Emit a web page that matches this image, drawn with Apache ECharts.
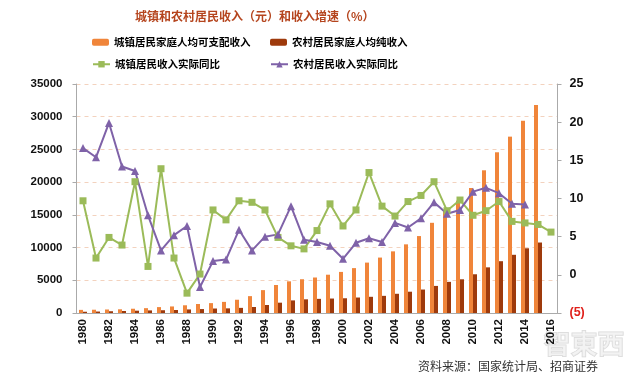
<!DOCTYPE html>
<html><head><meta charset="utf-8">
<script src="https://cdn.jsdelivr.net/npm/echarts@6/dist/echarts.min.js"></script>
<style>html,body{margin:0;padding:0;background:#fff;}#c{width:640px;height:383px;}</style>
</head><body><div id="c"></div>
<script>
const years = ['1980','1981','1982','1983','1984','1985','1986','1987','1988','1989','1990','1991','1992','1993','1994','1995','1996','1997','1998','1999','2000','2001','2002','2003','2004','2005','2006','2007','2008','2009','2010','2011','2012','2013','2014','2015','2016'];
const urbanIncome = [477.6,500.4,535.3,564.6,652.1,739.1,900.9,1002.1,1180.2,1373.9,1510.2,1700.6,2026.6,2577.4,3496.2,4283.0,4838.9,5160.3,5425.1,5854.0,6280.0,6859.6,7702.8,8472.2,9421.6,10493.0,11759.5,13785.8,15780.8,17174.7,19109.4,21809.8,24564.7,26955.1,29381.0,31790.3,null];
const ruralIncome = [191.3,223.4,270.1,309.8,355.3,397.6,423.8,462.6,544.9,601.5,686.3,708.6,784.0,921.6,1221.0,1577.7,1926.1,2090.1,2162.0,2210.3,2253.4,2366.4,2475.6,2622.2,2936.4,3254.9,3587.0,4140.4,4760.6,5153.2,5919.0,6977.3,7916.6,8895.9,9892.0,10772.0,null];
const urbanGrowth = [9.7,2.2,4.9,3.9,12.2,1.1,13.9,2.2,-2.4,0.1,8.5,7.2,9.7,9.5,8.5,4.9,3.8,3.4,5.8,9.3,6.4,8.5,13.4,9.0,7.7,9.6,10.4,12.2,8.4,9.8,7.8,8.4,9.6,7.0,6.8,6.6,5.6];
const ruralGrowth = [16.6,15.4,19.9,14.2,13.6,7.8,3.2,5.2,6.4,-1.6,1.8,2.0,5.9,3.2,5.0,5.3,9.0,4.6,4.3,3.8,2.1,4.2,4.8,4.3,6.8,6.2,7.4,9.5,8.0,8.5,10.9,11.4,10.7,9.3,9.2,null,null];
const leftTicks = [0,5000,10000,15000,20000,25000,30000,35000];
const rightTicks = [-5,0,5,10,15,20,25];
const names = ['城镇居民家庭人均可支配收入','农村居民家庭人均纯收入','城镇居民收入实际同比','农村居民收入实际同比'];

const chart = echarts.init(document.getElementById('c'), null, {renderer:'canvas'});
const lf = {fontSize:10.5, fontWeight:'bold', color:'#000', fontFamily:'"Noto Sans CJK SC", sans-serif'};
function lg(name, left, top, isLine){
  return {data:[name], left:left, top:top, itemWidth:17, itemHeight: isLine?8:7, itemGap:0, padding:0, textStyle:lf, selectedMode:false};
}
chart.setOption({
  animation:false,
  backgroundColor:'#fff',
  title:{text:'城镇和农村居民收入（元）和收入增速（%）', left:130, top:5,
    textStyle:{fontSize:12, fontWeight:'bold', color:'#B5451E', fontFamily:'"Noto Sans CJK SC", sans-serif'}},
  legend:[lg(names[0],92,37,false), lg(names[1],270,37,false), lg(names[2],92,59,true), lg(names[3],270,59,true)],
  graphic:[
    {type:'text', left:418, top:360, style:{text:'资料来源：国家统计局、招商证券', fontSize:12, fill:'#333', fontFamily:'"Noto Sans CJK SC", serif'}},
    {type:'text', left:543, top:330, z:-1, style:{text:'智東西', fontSize:27, fill:'rgba(235,235,235,0.6)', stroke:'rgba(190,190,190,0.6)', lineWidth:1, fontWeight:'bold', fontFamily:'"Noto Sans CJK SC", sans-serif'}}
  ],
  grid:{left:76.5, right:82.5, top:84, bottom:70},
  xAxis:{type:'category', data:years, boundaryGap:true,
    axisLine:{lineStyle:{color:'#AAAAAA', width:1}},
    axisTick:{interval:1, length:4, lineStyle:{color:'#AAAAAA'}},
    axisLabel:{interval:1, rotate:90, fontSize:11.5, fontWeight:'bold', color:'#111', margin:6, fontFamily:'"Liberation Sans", Arial, sans-serif'}},
  yAxis:[
    {type:'value', min:0, max:35000, interval:5000, position:'left',
     axisLine:{show:true, lineStyle:{color:'#AAAAAA'}},
     axisTick:{show:true, length:4, lineStyle:{color:'#AAAAAA'}},
     axisLabel:{fontSize:11.5, fontWeight:'bold', color:'#111', margin:14, fontFamily:'"Liberation Sans", Arial, sans-serif',
       formatter:function(v){return String(v);}},
     splitLine:{show:true, lineStyle:{type:[4,4], color:'#F3D2BE', width:1}}},
    {type:'value', min:-5, max:25, interval:5, position:'right',
     axisLine:{show:true, lineStyle:{color:'#AAAAAA'}},
     axisTick:{show:true, length:4, lineStyle:{color:'#AAAAAA'}},
     axisLabel:{fontSize:12.5, fontWeight:'bold', margin:12, fontFamily:'"Liberation Sans", Arial, sans-serif',
       color:function(v){return v<0?'#E0201B':'#111';},
       formatter:function(v){return v<0?'('+Math.abs(v)+')':String(v);}},
     splitLine:{show:false}}
  ],
  series:[
    {name:names[0], type:'bar', data:urbanIncome, yAxisIndex:0, barWidth:4, barGap:'0%', itemStyle:{color:'#F0853A'}},
    {name:names[1], type:'bar', data:ruralIncome, yAxisIndex:0, barWidth:4, barGap:'0%', itemStyle:{color:'#9E3A0C'}},
    {name:names[2], type:'line', data:urbanGrowth, yAxisIndex:1, symbol:'rect', symbolSize:7,
      lineStyle:{color:'#9BBB59', width:2}, itemStyle:{color:'#9BBB59'}},
    {name:names[3], type:'line', data:ruralGrowth, yAxisIndex:1, symbol:'triangle', symbolSize:8,
      lineStyle:{color:'#7F62A8', width:2}, itemStyle:{color:'#7F62A8'}}
  ]
});
</script></body></html>
